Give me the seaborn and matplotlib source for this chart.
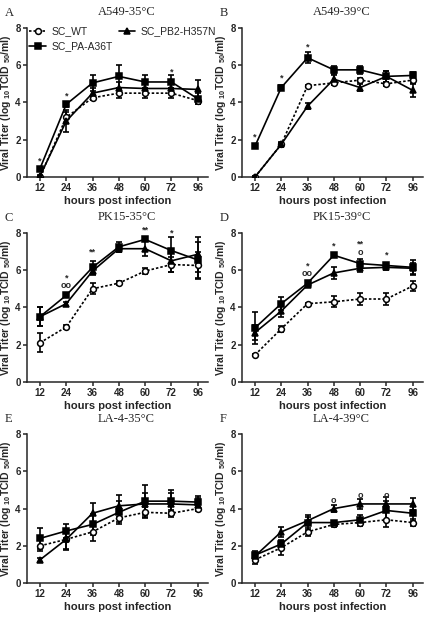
"""
Viral growth curves of SC_WT and mutants in three cell lines at 35 / 39 C.
Six panels, figure saved to out.png.
"""

import numpy as np
import pandas as pd
import matplotlib
matplotlib.use("Agg")
import matplotlib.pyplot as plt
import seaborn as sns

hours = ["12", "24", "36", "48", "60", "72", "96"]
strains = ["SC_WT", "SC_PA-A36T", "SC_PB2-H357N"]
panel_letters = ["A", "B", "C", "D", "E", "F"]
panel_titles = ["A549-35°C", "A549-39°C", "PK15-35°C",
                "PK15-39°C", "LA-4-35°C", "LA-4-39°C"]

# mean titers (log10 TCID50/ml), one list per strain per panel
wt_mean = [
    [0.0, 3.2, 4.25, 4.5, 4.5, 4.5, 4.1],
    [0.0, 1.75, 4.9, 5.05, 5.2, 5.0, 5.2],
    [2.1, 2.95, 5.0, 5.3, 5.95, 6.3, 6.25],
    [1.45, 2.85, 4.2, 4.3, 4.45, 4.45, 5.15],
    [2.0, 2.35, 2.75, 3.5, 3.8, 3.75, 4.0],
    [1.25, 1.9, 2.75, 3.15, 3.25, 3.4, 3.25],
]
pa_mean = [
    [0.45, 3.9, 5.05, 5.4, 5.1, 5.1, 4.2],
    [1.65, 4.8, 6.4, 5.75, 5.75, 5.4, 5.45],
    [3.5, 4.65, 6.15, 7.25, 7.65, 7.05, 6.55],
    [2.9, 4.2, 5.3, 6.8, 6.35, 6.25, 6.15],
    [2.4, 2.8, 3.15, 3.8, 4.4, 4.4, 4.35],
    [1.5, 2.1, 3.25, 3.25, 3.4, 3.9, 3.75],
]
pb2_mean = [
    [0.05, 3.0, 4.5, 4.8, 4.75, 4.75, 4.7],
    [0.0, 1.75, 3.8, 5.25, 4.8, 5.4, 4.65],
    [3.5, 4.2, 5.95, 7.15, 7.15, 6.5, 6.85],
    [2.65, 3.8, 5.2, 5.85, 6.1, 6.15, 6.1],
    [1.25, 2.35, 3.75, 4.15, 4.25, 4.25, 4.2],
    [1.45, 2.75, 3.35, 4.0, 4.25, 4.25, 4.25],
]

# standard deviations
wt_sd = [
    [0.05, 0.3, 0.1, 0.25, 0.25, 0.25, 0.2],
    [0.05, 0.1, 0.05, 0.1, 0.1, 0.1, 0.15],
    [0.5, 0.1, 0.3, 0.1, 0.15, 0.4, 0.7],
    [0.05, 0.15, 0.05, 0.3, 0.3, 0.3, 0.25],
    [0.3, 0.5, 0.5, 0.2, 0.3, 0.2, 0.1],
    [0.25, 0.4, 0.2, 0.15, 0.2, 0.4, 0.2],
]
pa_sd = [
    [0.1, 0.15, 0.45, 0.6, 0.35, 0.35, 0.3],
    [0.1, 0.15, 0.3, 0.2, 0.2, 0.3, 0.2],
    [0.5, 0.1, 0.35, 0.25, 0.1, 0.75, 0.95],
    [0.85, 0.35, 0.1, 0.1, 0.25, 0.15, 0.4],
    [0.55, 0.4, 0.55, 0.6, 0.85, 0.6, 0.35],
    [0.2, 0.15, 0.4, 0.1, 0.25, 0.5, 0.4],
]
pb2_sd = [
    [0.05, 0.6, 0.3, 0.3, 0.3, 0.3, 0.5],
    [0.05, 0.15, 0.15, 0.2, 0.2, 0.3, 0.35],
    [0.5, 0.1, 0.2, 0.2, 0.4, 0.6, 0.95],
    [0.4, 0.3, 0.1, 0.3, 0.2, 0.15, 0.3],
    [0.1, 0.55, 0.55, 0.6, 0.6, 0.6, 0.35],
    [0.1, 0.25, 0.2, 0.2, 0.25, 0.35, 0.3],
]

# significance marks: (panel, hour index, y, text)
sig_panel = [0, 0, 0, 1, 1, 1, 2, 2, 2, 2, 2, 3, 3, 3, 3, 3, 3, 5, 5, 5]
sig_hour = [0, 1, 5, 0, 1, 2, 1, 1, 2, 4, 5, 2, 2, 3, 4, 4, 5, 3, 4, 5]
sig_y = [0.85, 4.35, 5.65, 2.15, 5.3, 7.0, 5.6, 5.15, 6.95, 8.15, 8.0,
         6.2, 5.8, 7.3, 7.4, 6.95, 6.8, 4.45, 4.7, 4.7]
sig_text = ["*", "*", "*", "*", "*", "*", "*", "oo", "**", "**", "*",
            "*", "oo", "*", "**", "o", "*", "o", "o", "o"]

sns.set_style("ticks")
plt.rcParams["font.family"] = ["Liberation Sans", "DejaVu Sans"]
plt.rcParams["mathtext.fontset"] = "custom"
plt.rcParams["mathtext.bf"] = "Liberation Sans:bold"
plt.rcParams["mathtext.rm"] = "Liberation Sans:bold"
plt.rcParams["mathtext.default"] = "bf"

STYLE = {
    "SC_WT": dict(marker="o", linestyle=(0, (1.5, 1.2)), mfc="white"),
    "SC_PA-A36T": dict(marker="s", linestyle="-", mfc="black"),
    "SC_PB2-H357N": dict(marker="^", linestyle="-", mfc="black"),
}

fig = plt.figure(figsize=(4.30, 6.21), dpi=100)

# axes rectangles in figure fraction [left, bottom, width, height]
lefts = [0.063, 0.563]
bottoms = [0.715, 0.385, 0.061]
W, H = 0.42, 0.24

pos = np.arange(len(hours))
for i in range(6):
    row, col = divmod(i, 2)
    ax = fig.add_axes([lefts[col], bottoms[row], W, H])
    means = [wt_mean[i], pa_mean[i], pb2_mean[i]]
    sds = [wt_sd[i], pa_sd[i], pb2_sd[i]]
    for s, m, sd in zip(strains, means, sds):
        df = pd.DataFrame({"pos": pos, "titer": m})
        st = STYLE[s]
        ax.errorbar(pos, m, yerr=sd, fmt="none", ecolor="black",
                    elinewidth=1.2, capsize=2.5, capthick=1.2, zorder=2)
        sns.lineplot(data=df, x="pos", y="titer", ax=ax, color="black",
                     linewidth=1.2, marker=st["marker"],
                     linestyle=st["linestyle"], markersize=4.2,
                     markerfacecolor=st["mfc"], markeredgecolor="black",
                     markeredgewidth=1.1, label=s, legend=False, zorder=3)

    ax.set_xlim(-0.49, 6.38)
    ax.set_ylim(0, 8)
    ax.set_xticks(pos)
    ax.set_xticklabels(hours)
    ax.set_yticks([0, 2, 4, 6, 8])
    ax.tick_params(labelsize=7, width=1.1, length=3, pad=1.5)
    for lab in ax.get_xticklabels() + ax.get_yticklabels():
        lab.set_fontweight("bold")
    for sp in ["left", "bottom"]:
        ax.spines[sp].set_linewidth(1.1)
    sns.despine(ax=ax)
    ax.set_xlabel("hours post infection", fontsize=8, fontweight="bold",
                  labelpad=2)
    ax.set_ylabel("Viral Titer (log $_{10}$TCID $_{50}$/ml)", fontsize=7.5,
                  fontweight="bold", labelpad=2)
    ax.set_title(panel_titles[i], fontsize=9, family="Liberation Serif",
                 pad=9, x=0.55)
    fig.text(lefts[col] - 0.052, bottoms[row] + H + 0.024,
             panel_letters[i], fontsize=9, family="Liberation Serif",
             ha="left", va="center")

    for p, hx, y, t in zip(sig_panel, sig_hour, sig_y, sig_text):
        if p == i:
            ax.text(hx, y, t, ha="center", va="center", fontsize=6.5,
                    fontweight="bold")

    if i == 0:
        ax.legend(loc="upper left", ncol=2, frameon=False, fontsize=7.5,
                  handlelength=1.6, handletextpad=0.5, columnspacing=0.6,
                  borderaxespad=0.0, labelspacing=0.5,
                  bbox_to_anchor=(-0.01, 1.04))

fig.savefig("out.png", dpi=100)
